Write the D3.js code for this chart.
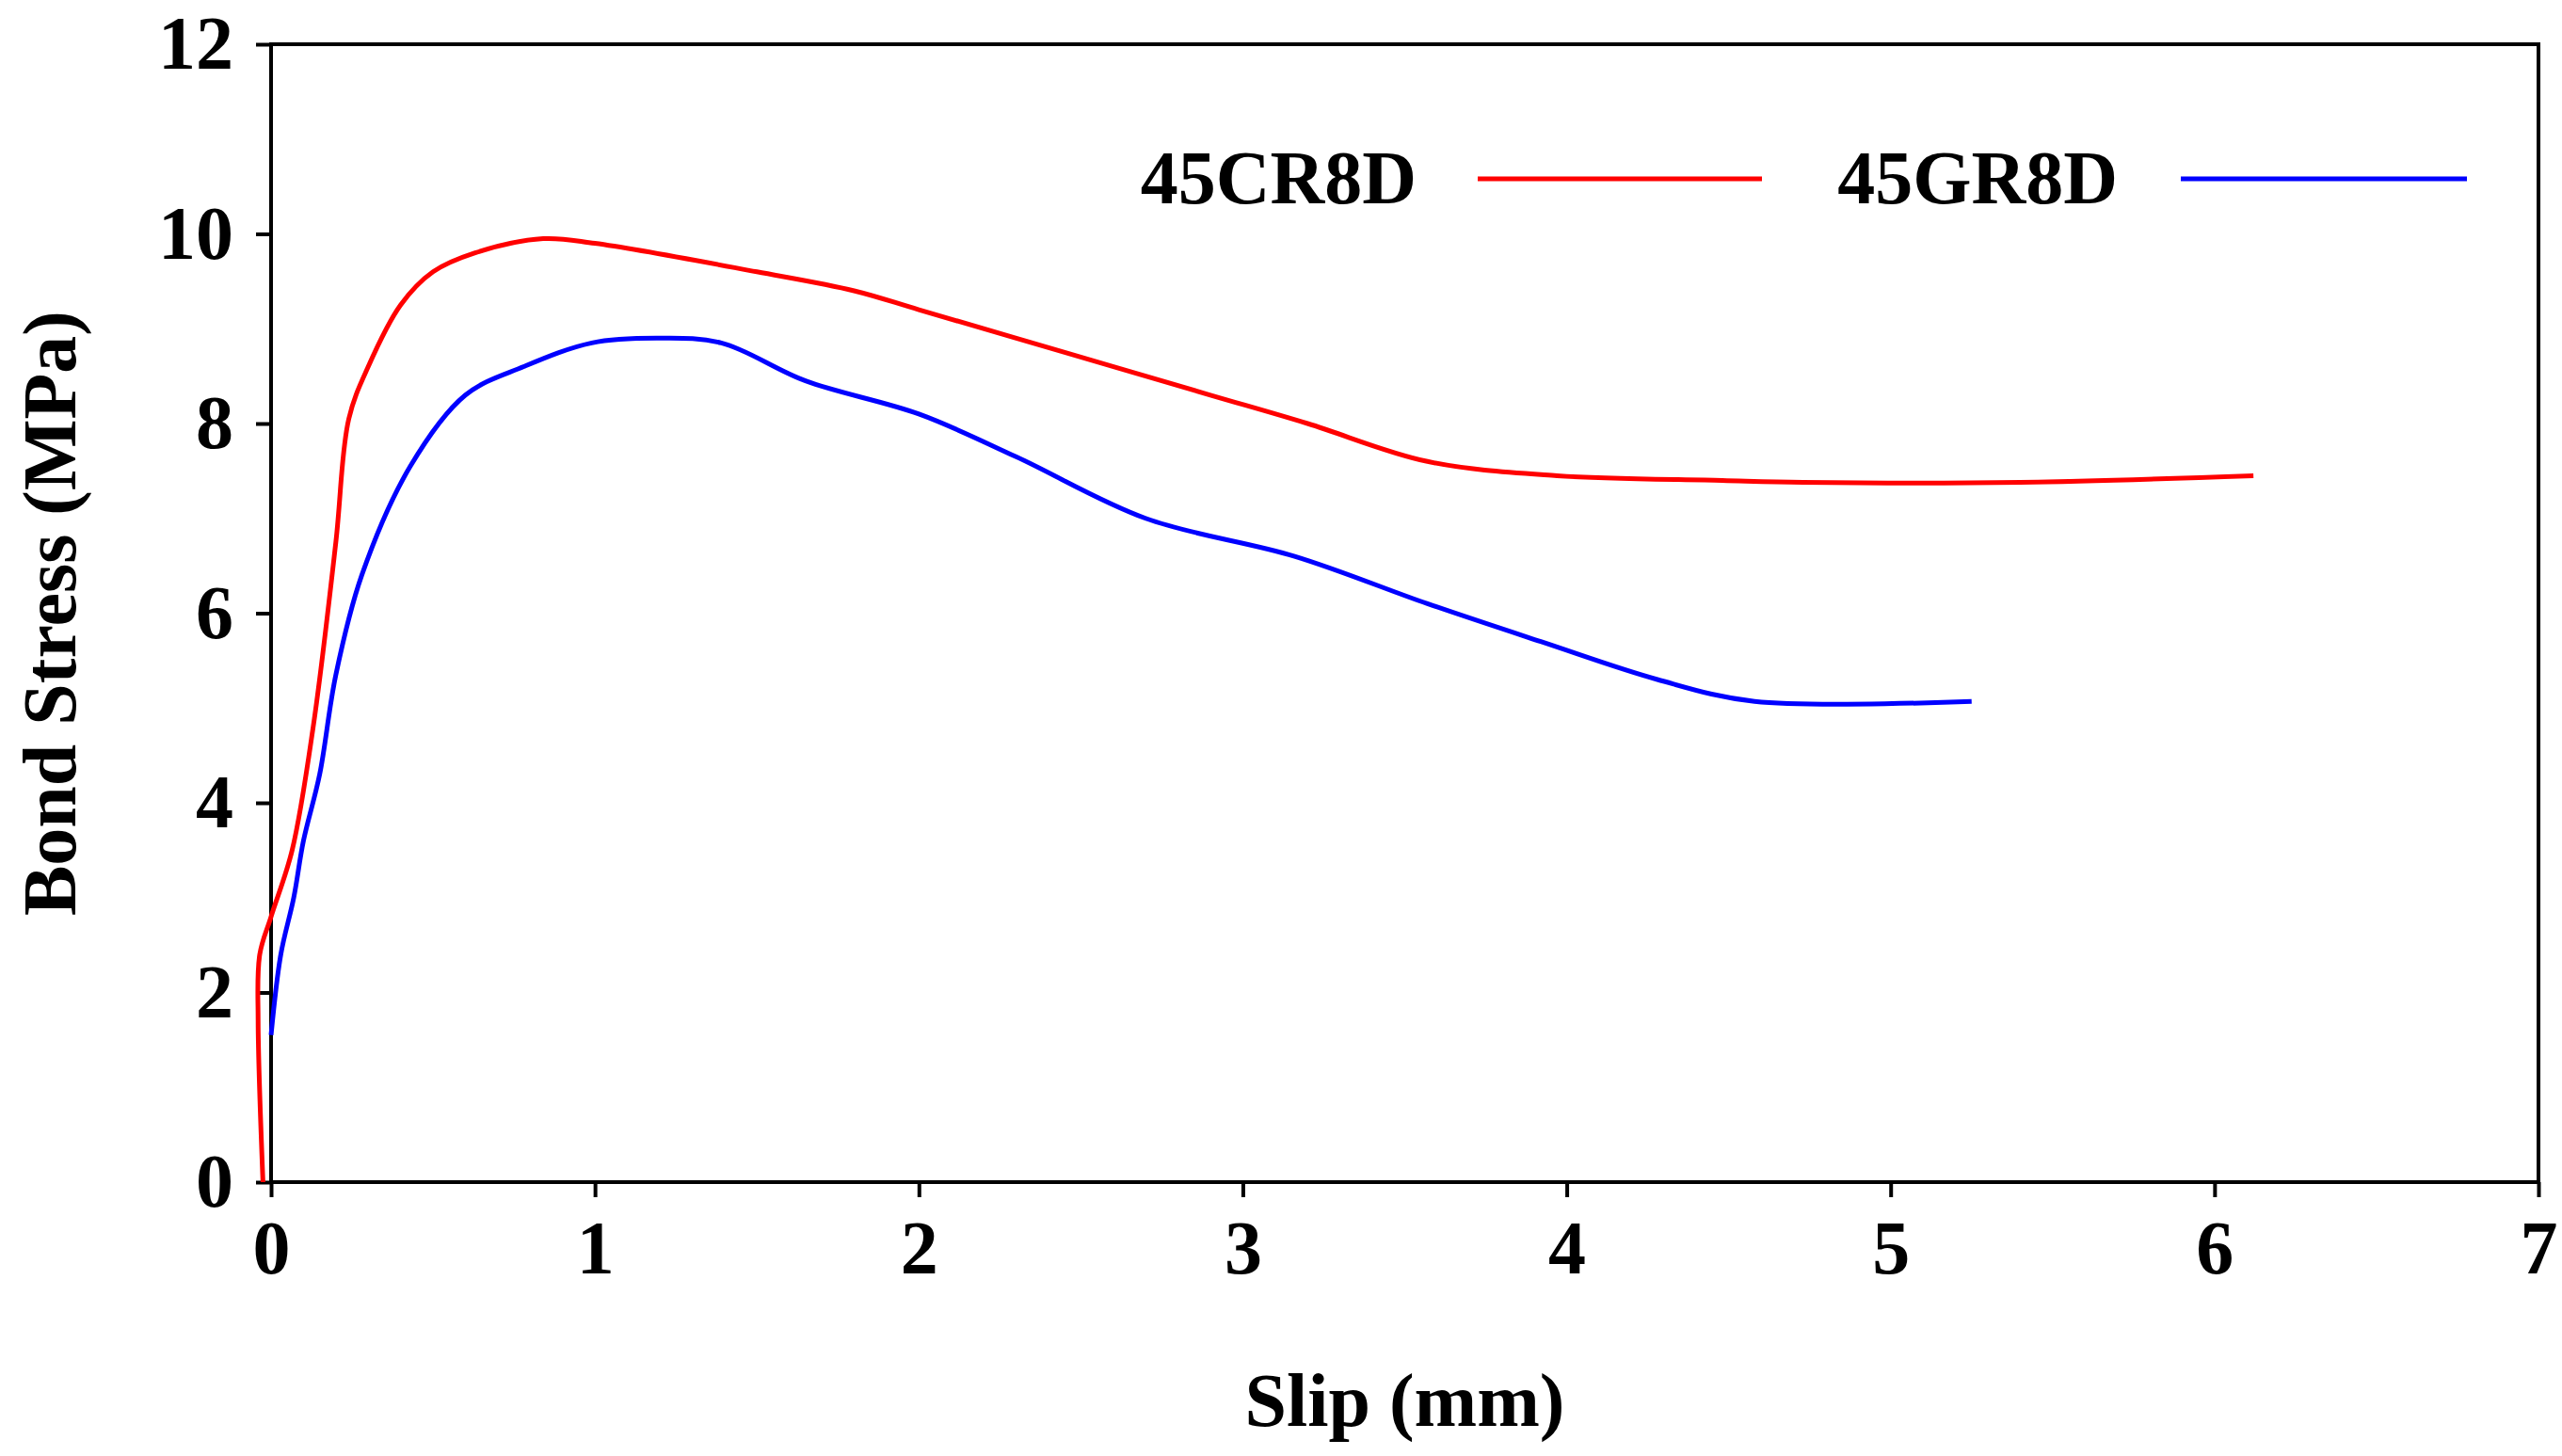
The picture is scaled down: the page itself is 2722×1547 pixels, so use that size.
<!DOCTYPE html>
<html><head><meta charset="utf-8">
<script src="https://cdn.jsdelivr.net/npm/d3@7"></script>
<style>body{margin:0;background:#fff}svg{display:block}</style>
</head><body><svg id="c" width="2722" height="1547"></svg>
<script>
const xTicks=[0,1,2,3,4,5,6,7];
const yTicks=[0,2,4,6,8,10,12];
const seriesNames=["45CR8D","45GR8D"];
const seriesColors=["#ff0000","#0000ff"];
const redX=[-0.025,-0.04,-0.035,0,0.065,0.13,0.2,0.24,0.3,0.4,0.5,0.63,0.84,1.0,1.5,1.8,2.0,2.45,2.9,3.2,3.57,3.97,4.48,4.73,5.4,6.12];
const redY=[0,1.7,2.4,2.8,3.5,4.8,6.75,8.05,8.6,9.25,9.6,9.8,9.95,9.9,9.6,9.4,9.2,8.75,8.3,8.0,7.6,7.45,7.4,7.38,7.38,7.45];
const blueX=[0,0.03,0.07,0.1,0.15,0.2,0.28,0.43,0.6,0.78,0.99,1.19,1.39,1.65,2.0,2.3,2.7,3.16,3.57,3.92,4.28,4.58,5.25];
const blueY=[1.55,2.4,3.0,3.6,4.3,5.35,6.4,7.55,8.3,8.6,8.85,8.9,8.85,8.45,8.1,7.65,7.0,6.6,6.1,5.7,5.3,5.07,5.07];

const svg=d3.select("#c");
const L=288,R=2697,T=47,B=1256;
const x=d3.scaleLinear().domain([0,7]).range([L,R]);
const y=d3.scaleLinear().domain([0,12]).range([B,T]);
const font="'Liberation Serif','DejaVu Serif',serif";
svg.append("rect").attr("x",L).attr("y",T).attr("width",R-L).attr("height",B-T).attr("fill","none").attr("stroke","#000").attr("stroke-width",4);
const xa=svg.append("g").attr("transform",`translate(0,${B})`).call(d3.axisBottom(x).tickValues(xTicks).tickSize(16).tickPadding(24).tickFormat(d3.format("d")));
const ya=svg.append("g").attr("transform",`translate(${L},0)`).call(d3.axisLeft(y).tickValues(yTicks).tickSize(16).tickPadding(24).tickFormat(d3.format("d")));
[xa,ya].forEach(a=>{a.select(".domain").remove();a.selectAll("line").attr("stroke","#000").attr("stroke-width",4);
a.selectAll("text").attr("font-family",font).attr("font-weight","bold").attr("font-size",80).attr("fill","#000");});
svg.append("text").attr("x",(L+R)/2).attr("y",1515).attr("text-anchor","middle").attr("font-family",font).attr("font-weight","bold").attr("font-size",80).text("Slip (mm)");
svg.append("text").attr("transform",`translate(80,${(T+B)/2}) rotate(-90)`).attr("text-anchor","middle").attr("font-family",font).attr("font-weight","bold").attr("font-size",80).text("Bond Stress (MPa)");
const line=d3.line().x(d=>x(d[0])).y(d=>y(d[1])).curve(d3.curveCatmullRom.alpha(0.5));
[[redX,redY],[blueX,blueY]].forEach((s,i)=>{
 svg.append("path").attr("d",line(s[0].map((v,j)=>[v,s[1][j]]))).attr("fill","none").attr("stroke",seriesColors[i]).attr("stroke-width",5);
});
const lg=[{tx:1505,x1:1570,x2:1872},{tx:2250,x1:2317,x2:2621}];
lg.forEach((p,i)=>{
 svg.append("text").attr("x",p.tx).attr("y",y(10.58)+26).attr("text-anchor","end").attr("font-family",font).attr("font-weight","bold").attr("font-size",80).text(seriesNames[i]);
 svg.append("line").attr("x1",p.x1).attr("x2",p.x2).attr("y1",y(10.58)).attr("y2",y(10.58)).attr("stroke",seriesColors[i]).attr("stroke-width",5);
});
</script></body></html>
